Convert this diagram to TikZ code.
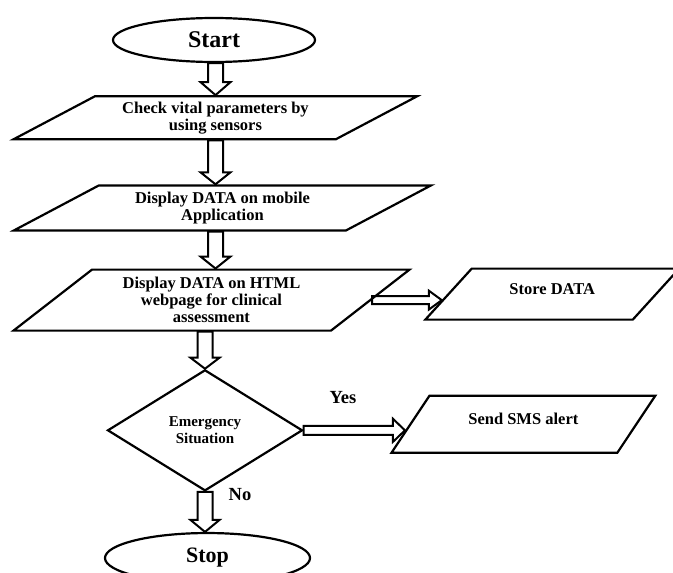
\documentclass[tikz,border=0pt]{standalone}
\usepackage{fontspec}
\setmainfont{Liberation Serif}
\usetikzlibrary{shapes.geometric, positioning, calc}

\begin{document}
\begin{tikzpicture}[
  x=1pt, y=-1pt,
  TM/.style ={draw, ellipse, line width=2.2pt, inner sep=0pt,
              font=\fontsize{24}{26}\selectfont\bfseries},
  IO/.style ={draw, trapezium, trapezium stretches=true, line width=2.2pt, inner sep=0pt,
              align=center, font=\fontsize{16.5}{17}\selectfont\bfseries},
  DC/.style ={draw, diamond, line width=2.2pt, inner sep=0pt, align=center,
              minimum width=195pt, minimum height=121pt,
              font=\fontsize{15}{17}\selectfont\bfseries},
  UP/.style ={text height=11.5pt, text depth=11.5pt},
  LB/.style ={font=\fontsize{18.5}{20}\selectfont\bfseries, inner sep=0pt},
  AR/.style ={line width=2pt, line join=miter},
  BA/.style args={#1/#2/#3}{to path={
      let \p1=(\tikztostart), \p2=(\tikztotarget),
          \n1={atan2((\y2)-(\y1),(\x2)-(\x1))},
          \n2={veclen((\x2)-(\x1),(\y2)-(\y1))} in
      ($(\p1)+({\n1+90}:#1/2)$) -- ++(\n1:{\n2*1pt-#3}) -- ++({\n1+90}:{#2/2-#1/2})
      -- (\p2) -- ($(\p2)+(\n1:-#3)+({\n1-90}:#2/2)$) -- ++({\n1+90}:{#2/2-#1/2})
      -- ($(\p1)+({\n1-90}:#1/2)$) -- cycle}}
]
  \useasboundingbox (0,0) rectangle (673,573);

  \node[TM, minimum width=202pt, minimum height=44pt] (s0) at (214,40) {Start};
  \node[IO, trapezium left angle=27, trapezium right angle=153,
        minimum width=405pt, minimum height=43pt, below=32pt of s0, xshift=1.5pt] (s1)
    {Check vital parameters by\\using sensors};
  \node[IO, trapezium left angle=28, trapezium right angle=152,
        minimum width=419pt, minimum height=45pt, below=44pt of s1, xshift=7pt] (s2)
    {Display DATA on mobile\\Application};
  \node[IO, trapezium left angle=38, trapezium right angle=142,
        minimum width=397pt, minimum height=61pt, below=37pt of s2, xshift=-11pt] (s3)
    {Display DATA on HTML\\webpage for clinical\\assessment};
  \node[DC, below=37pt of s3, xshift=-6.5pt] (s4) {Emergency\\Situation};
  \node[TM, font=\fontsize{22}{24}\selectfont\bfseries, minimum width=205pt,
        minimum height=50pt, below=40pt of s4, xshift=2.5pt] (s5) {Stop};
  \node[IO, UP, trapezium left angle=43, trapezium right angle=137,
        minimum width=254pt, minimum height=51pt, right=75pt of s3, yshift=6pt] (s6)
    {Store DATA};
  \node[IO, UP, trapezium left angle=46, trapezium right angle=134,
        minimum width=264pt, minimum height=57pt, right=105.5pt of s4, yshift=6pt] (s7)
    {Send SMS alert};

  \node[LB] (yes) at (343,398) {Yes};
  \node[LB] (no) at (240,495) {No};

  % hollow block arrows
  \draw[AR, BA=15pt/30pt/13pt] (s1.north |- s0.south) to (s1.north);
  \draw[AR, BA=15pt/30pt/12pt] (s1.south) to (s1.south |- s2.north);
  \draw[AR, BA=15pt/30pt/12pt] (s1.south |- s2.south) to (s1.south |- s3.north);
  \draw[AR, BA=15pt/29pt/11pt] (s4.north |- s3.south) to (s4.north);
  \draw[AR, BA=15pt/29pt/12pt] (s4.south) to (s4.south |- s5.north);
  \draw[AR, BA=8pt/19pt/13pt] (s3.east) to (s3.east -| s6.183);
  \draw[AR, BA=9pt/23pt/12pt] (s4.east) to (s4.east -| s7.183);
\end{tikzpicture}
\end{document}
